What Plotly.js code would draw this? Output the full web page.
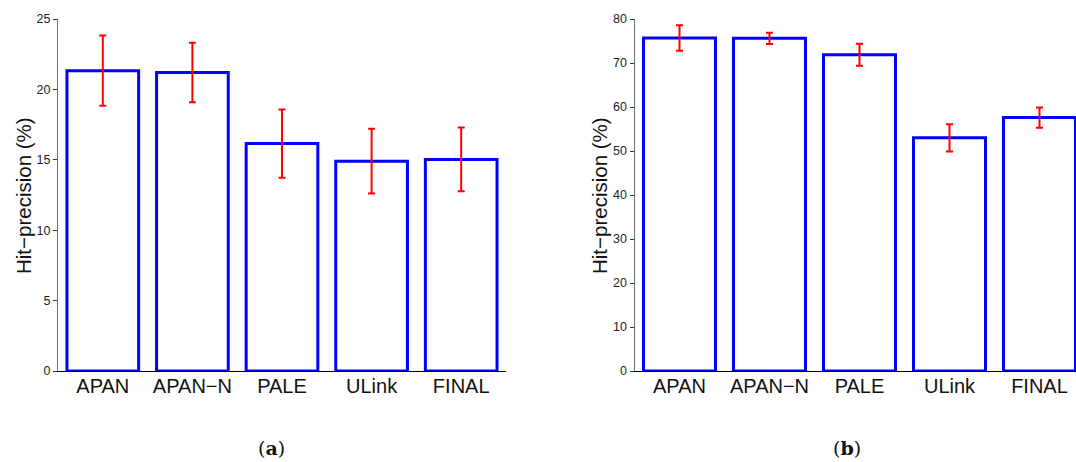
<!DOCTYPE html>
<html>
<head>
<meta charset="utf-8">
<script src="https://cdn.plot.ly/plotly-3.0.1.min.js"></script>
<style>html,body{margin:0;padding:0;background:#fff;}#chart{width:1076px;height:462px;}</style>
</head>
<body>
<div id="chart"></div>
<script>
// Data
var categories = ["APAN", "APAN\u2212N", "PALE", "ULink", "FINAL"];
var leftValues = [21.33, 21.2, 16.15, 14.9, 15.03];
var leftErrors = [2.5, 2.12, 2.42, 2.3, 2.27];
var rightValues = [75.7, 75.6, 71.9, 53.0, 57.6];
var rightErrors = [2.9, 1.3, 2.5, 3.1, 2.3];
var leftTicks = [0, 5, 10, 15, 20, 25];
var rightTicks = [0, 10, 20, 30, 40, 50, 60, 70, 80];
var yTitle = "Hit\u2212precision (%)";
var captions = ["a", "b"];

var W = 1076, H = 462;
function px(x) { return x / W; }
function py(y) { return 1 - y / H; }

var idx = categories.map(function (c, i) { return i; });

function barTrace(vals, errs, xa, ya) {
  return {
    type: "bar",
    x: idx,
    y: vals,
    width: 0.8,
    xaxis: xa,
    yaxis: ya,
    marker: { color: "#ffffff", line: { color: "#0000ff", width: 3 } },
    error_y: { type: "data", array: errs, visible: true, color: "#ff0000", thickness: 2, width: 3.5 },
    hoverinfo: "skip",
    showlegend: false
  };
}

var data = [
  barTrace(leftValues, leftErrors, "x", "y"),
  barTrace(rightValues, rightErrors, "x2", "y2")
];

var tickFont = { family: "Liberation Sans, Arial, sans-serif", size: 12.5, color: "#222" };
var catFont = { family: "Liberation Sans, Arial, sans-serif", size: 20, color: "#111" };

function yAxis(range, ticks, anchor) {
  return {
    range: range,
    domain: [py(371), py(19)],
    anchor: anchor,
    tickmode: "array",
    tickvals: ticks,
    ticktext: ticks.map(String),
    showline: true,
    linecolor: "#6e6e6e",
    linewidth: 1,
    ticks: "outside",
    ticklen: 4,
    tickwidth: 1,
    tickcolor: "#333",
    tickfont: tickFont,
    showgrid: false,
    zeroline: false,
    fixedrange: true
  };
}

function xAxis(domain, range, anchor) {
  return {
    domain: domain,
    range: range,
    anchor: anchor,
    tickmode: "array",
    tickvals: idx,
    ticktext: categories,
    showline: true,
    linecolor: "#000",
    linewidth: 1,
    ticks: "",
    ticklabelstandoff: -3,
    tickfont: catFont,
    showgrid: false,
    zeroline: false,
    fixedrange: true
  };
}

var layout = {
  width: W,
  height: H,
  margin: { l: 0, r: 0, t: 0, b: 0, pad: 0 },
  paper_bgcolor: "#fff",
  plot_bgcolor: "rgba(0,0,0,0)",
  showlegend: false,
  bargap: 0.2,
  xaxis: xAxis([px(58), px(506)], [-0.5, 4.5], "y"),
  yaxis: yAxis([0, 25], leftTicks, "x"),
  xaxis2: xAxis([px(634.5), 1], [-0.5, 4.5 - 8.5 / 90], "y2"),
  yaxis2: yAxis([0, 80], rightTicks, "x2"),
  annotations: [
    { text: yTitle, xref: "paper", yref: "paper", x: px(23), y: py(196), textangle: -90,
      showarrow: false, xanchor: "center", yanchor: "middle",
      font: { family: "Liberation Sans, Arial, sans-serif", size: 20.5, color: "#111" } },
    { text: yTitle, xref: "paper", yref: "paper", x: px(599), y: py(196), textangle: -90,
      showarrow: false, xanchor: "center", yanchor: "middle",
      font: { family: "Liberation Sans, Arial, sans-serif", size: 20.5, color: "#111" } },
    { text: "(<b>" + captions[0] + "</b>)", xref: "paper", yref: "paper", x: px(271), y: py(448),
      showarrow: false, xanchor: "center", yanchor: "middle",
      font: { family: "DejaVu Serif, Liberation Serif, serif", size: 19, color: "#111" } },
    { text: "(<b>" + captions[1] + "</b>)", xref: "paper", yref: "paper", x: px(847), y: py(448),
      showarrow: false, xanchor: "center", yanchor: "middle",
      font: { family: "DejaVu Serif, Liberation Serif, serif", size: 19, color: "#111" } }
  ]
};

Plotly.newPlot("chart", data, layout, { displayModeBar: false, staticPlot: true });
</script>
</body>
</html>
